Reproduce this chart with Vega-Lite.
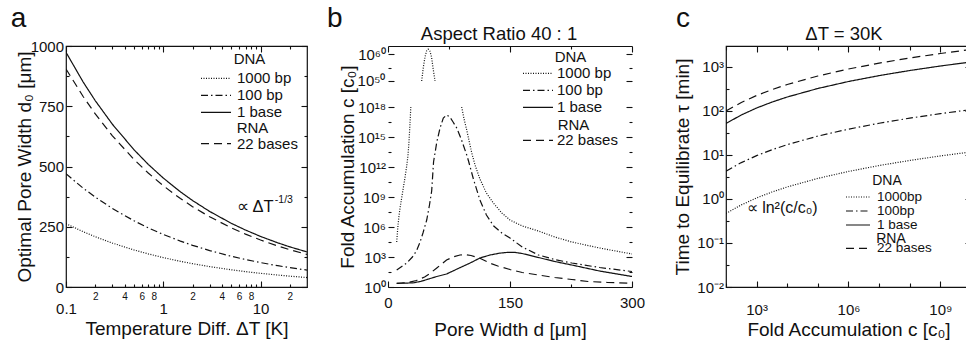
{
"$schema": "https://vega.github.io/schema/vega-lite/v6.json",
"autosize": {"type": "none"},
"padding": {"left": 66, "top": 46, "right": 900, "bottom": 295},
"background": "white",
"config": {
  "font": "Liberation Sans",
  "view": {"stroke": "#111", "strokeWidth": 1.2},
  "mark": {"color": "#111"},
  "line": {"strokeWidth": 1.2},
  "text": {"fill": "#111", "color": "#111"},
  "axis": {"labelFontSize": 15, "labelColor": "#111", "tickColor": "#111", "domainColor": "#111", "titleColor": "#111", "titleFontSize": 19, "titleFontWeight": "normal", "grid": false, "labelFlush": false, "labelOverlap": false, "labelBound": false, "tickWidth": 1.1, "domainWidth": 1.2, "labelPadding": 8.5},
  "legend": {"orient": "none", "direction": "vertical", "padding": 0, "titleFontWeight": "normal", "titleColor": "#111", "labelColor": "#111", "symbolStrokeColor": "#111", "symbolStrokeWidth": 1.2, "symbolType": "M-2,0H2", "symbolSize": 225, "labelFontSize": 15, "titleFontSize": 15}
},
"datasets": {
  "one": [{"k": 1}],
  "a_dna": [
    {"dT":0.1,"d0":973.8,"s":"1 base"},{"dT":0.15,"d0":850.7,"s":"1 base"},{"dT":0.2,"d0":772.9,"s":"1 base"},{"dT":0.3,"d0":675.2,"s":"1 base"},{"dT":0.5,"d0":569.5,"s":"1 base"},{"dT":0.7,"d0":509.0,"s":"1 base"},{"dT":1,"d0":452,"s":"1 base"},{"dT":1.5,"d0":394.9,"s":"1 base"},{"dT":2,"d0":358.8,"s":"1 base"},{"dT":3,"d0":313.4,"s":"1 base"},{"dT":5,"d0":264.3,"s":"1 base"},{"dT":7,"d0":236.3,"s":"1 base"},{"dT":10,"d0":209.8,"s":"1 base"},{"dT":15,"d0":183.3,"s":"1 base"},{"dT":20,"d0":166.5,"s":"1 base"},{"dT":30,"d0":145.5,"s":"1 base"},
    {"dT":0.1,"d0":469.7,"s":"100 bp"},{"dT":0.15,"d0":410.3,"s":"100 bp"},{"dT":0.2,"d0":372.8,"s":"100 bp"},{"dT":0.3,"d0":325.6,"s":"100 bp"},{"dT":0.5,"d0":274.7,"s":"100 bp"},{"dT":0.7,"d0":245.5,"s":"100 bp"},{"dT":1,"d0":218,"s":"100 bp"},{"dT":1.5,"d0":190.4,"s":"100 bp"},{"dT":2,"d0":173.0,"s":"100 bp"},{"dT":3,"d0":151.2,"s":"100 bp"},{"dT":5,"d0":127.5,"s":"100 bp"},{"dT":7,"d0":114.0,"s":"100 bp"},{"dT":10,"d0":101.2,"s":"100 bp"},{"dT":15,"d0":88.4,"s":"100 bp"},{"dT":20,"d0":80.3,"s":"100 bp"},{"dT":30,"d0":70.2,"s":"100 bp"},
    {"dT":0.1,"d0":262.8,"s":"1000 bp"},{"dT":0.15,"d0":229.6,"s":"1000 bp"},{"dT":0.2,"d0":208.6,"s":"1000 bp"},{"dT":0.3,"d0":182.2,"s":"1000 bp"},{"dT":0.5,"d0":153.7,"s":"1000 bp"},{"dT":0.7,"d0":137.4,"s":"1000 bp"},{"dT":1,"d0":122,"s":"1000 bp"},{"dT":1.5,"d0":106.6,"s":"1000 bp"},{"dT":2,"d0":96.8,"s":"1000 bp"},{"dT":3,"d0":84.6,"s":"1000 bp"},{"dT":5,"d0":71.3,"s":"1000 bp"},{"dT":7,"d0":63.8,"s":"1000 bp"},{"dT":10,"d0":56.6,"s":"1000 bp"},{"dT":15,"d0":49.5,"s":"1000 bp"},{"dT":20,"d0":44.9,"s":"1000 bp"},{"dT":30,"d0":39.3,"s":"1000 bp"}
  ],
  "a_rna": [
    {"dT":0.1,"d0":904.8,"s":"22 bases"},{"dT":0.15,"d0":790.5,"s":"22 bases"},{"dT":0.2,"d0":718.2,"s":"22 bases"},{"dT":0.3,"d0":627.4,"s":"22 bases"},{"dT":0.5,"d0":529.2,"s":"22 bases"},{"dT":0.7,"d0":473.0,"s":"22 bases"},{"dT":1,"d0":420,"s":"22 bases"},{"dT":1.5,"d0":366.9,"s":"22 bases"},{"dT":2,"d0":333.4,"s":"22 bases"},{"dT":3,"d0":291.2,"s":"22 bases"},{"dT":5,"d0":245.6,"s":"22 bases"},{"dT":7,"d0":219.6,"s":"22 bases"},{"dT":10,"d0":195.0,"s":"22 bases"},{"dT":15,"d0":170.3,"s":"22 bases"},{"dT":20,"d0":154.7,"s":"22 bases"},{"dT":30,"d0":135.2,"s":"22 bases"}
  ],
  "b_dna": [
    {"d":41.4,"c":1e50,"s":"1000 bp","seg":"T"},{"d":43.4,"c":1e55,"s":"1000 bp","seg":"T"},{"d":45.5,"c":1e59,"s":"1000 bp","seg":"T"},{"d":47.5,"c":1.58e61,"s":"1000 bp","seg":"T"},{"d":49.4,"c":6.31e61,"s":"1000 bp","seg":"T"},{"d":51.5,"c":1.26e61,"s":"1000 bp","seg":"T"},{"d":53.5,"c":1e59,"s":"1000 bp","seg":"T"},{"d":55.3,"c":1e55,"s":"1000 bp","seg":"T"},{"d":57.8,"c":1e50,"s":"1000 bp","seg":"T"},
    {"d":10.7,"c":3.16e4,"s":"1000 bp","seg":"L"},{"d":12,"c":7.94e5,"s":"1000 bp","seg":"L"},{"d":13.5,"c":1.26e7,"s":"1000 bp","seg":"L"},{"d":15,"c":1e8,"s":"1000 bp","seg":"L"},{"d":16.8,"c":7.94e8,"s":"1000 bp","seg":"L"},{"d":19,"c":1e10,"s":"1000 bp","seg":"L"},{"d":21,"c":1e11,"s":"1000 bp","seg":"L"},{"d":23,"c":1.26e12,"s":"1000 bp","seg":"L"},{"d":24.5,"c":1.26e13,"s":"1000 bp","seg":"L"},{"d":25.7,"c":2.51e14,"s":"1000 bp","seg":"L"},{"d":26.7,"c":6.31e15,"s":"1000 bp","seg":"L"},{"d":27.4,"c":7.94e16,"s":"1000 bp","seg":"L"},{"d":28,"c":1e18,"s":"1000 bp","seg":"L"},
    {"d":90.6,"c":1e18,"s":"1000 bp","seg":"R"},{"d":93.5,"c":6.31e16,"s":"1000 bp","seg":"R"},{"d":96.8,"c":5.01e15,"s":"1000 bp","seg":"R"},{"d":100,"c":3.16e14,"s":"1000 bp","seg":"R"},{"d":103,"c":2.51e13,"s":"1000 bp","seg":"R"},{"d":107,"c":1.58e12,"s":"1000 bp","seg":"R"},{"d":113,"c":6.31e10,"s":"1000 bp","seg":"R"},{"d":121,"c":2.51e9,"s":"1000 bp","seg":"R"},{"d":129.5,"c":2.51e8,"s":"1000 bp","seg":"R"},{"d":140,"c":2.51e7,"s":"1000 bp","seg":"R"},{"d":150,"c":5.01e6,"s":"1000 bp","seg":"R"},{"d":165,"c":1.26e6,"s":"1000 bp","seg":"R"},{"d":185,"c":3.98e5,"s":"1000 bp","seg":"R"},{"d":205,"c":1e5,"s":"1000 bp","seg":"R"},{"d":226,"c":3.16e4,"s":"1000 bp","seg":"R"},{"d":260,"c":7940,"s":"1000 bp","seg":"R"},{"d":300,"c":2000,"s":"1000 bp","seg":"R"},
    {"d":10.7,"c":50.1,"s":"100 bp","seg":"m"},{"d":16,"c":100,"s":"100 bp","seg":"m"},{"d":23,"c":251,"s":"100 bp","seg":"m"},{"d":30,"c":1000,"s":"100 bp","seg":"m"},{"d":35,"c":3981,"s":"100 bp","seg":"m"},{"d":39,"c":2.51e4,"s":"100 bp","seg":"m"},{"d":43,"c":2.51e5,"s":"100 bp","seg":"m"},{"d":47.6,"c":5.01e6,"s":"100 bp","seg":"m"},{"d":51,"c":1.58e8,"s":"100 bp","seg":"m"},{"d":53.7,"c":3.98e9,"s":"100 bp","seg":"m"},{"d":56,"c":3.16e12,"s":"100 bp","seg":"m"},{"d":60,"c":3.16e14,"s":"100 bp","seg":"m"},{"d":64,"c":7.94e15,"s":"100 bp","seg":"m"},{"d":68,"c":7.94e16,"s":"100 bp","seg":"m"},{"d":72,"c":1.58e17,"s":"100 bp","seg":"m"},{"d":76,"c":1e17,"s":"100 bp","seg":"m"},{"d":80,"c":3.16e16,"s":"100 bp","seg":"m"},{"d":84.5,"c":7.94e15,"s":"100 bp","seg":"m"},{"d":90,"c":6.31e14,"s":"100 bp","seg":"m"},{"d":96.8,"c":1.58e13,"s":"100 bp","seg":"m"},{"d":99,"c":3.98e12,"s":"100 bp","seg":"m"},{"d":105,"c":6.31e10,"s":"100 bp","seg":"m"},{"d":113,"c":5.01e8,"s":"100 bp","seg":"m"},{"d":121,"c":1.58e7,"s":"100 bp","seg":"m"},{"d":130,"c":1.26e6,"s":"100 bp","seg":"m"},{"d":140,"c":2.51e5,"s":"100 bp","seg":"m"},{"d":150,"c":7.94e4,"s":"100 bp","seg":"m"},{"d":165,"c":1e4,"s":"100 bp","seg":"m"},{"d":185,"c":1585,"s":"100 bp","seg":"m"},{"d":205,"c":562,"s":"100 bp","seg":"m"},{"d":226,"c":251,"s":"100 bp","seg":"m"},{"d":260,"c":89.1,"s":"100 bp","seg":"m"},{"d":300,"c":35.5,"s":"100 bp","seg":"m"},
    {"d":10.7,"c":2.34,"s":"1 base","seg":"m"},{"d":20,"c":2.4,"s":"1 base","seg":"m"},{"d":31,"c":2.63,"s":"1 base","seg":"m"},{"d":40,"c":3.55,"s":"1 base","seg":"m"},{"d":50,"c":6.31,"s":"1 base","seg":"m"},{"d":60,"c":11.2,"s":"1 base","seg":"m"},{"d":72,"c":20,"s":"1 base","seg":"m"},{"d":85,"c":63.1,"s":"1 base","seg":"m"},{"d":101,"c":251,"s":"1 base","seg":"m"},{"d":113,"c":794,"s":"1 base","seg":"m"},{"d":125.5,"c":1585,"s":"1 base","seg":"m"},{"d":137,"c":2399,"s":"1 base","seg":"m"},{"d":148,"c":2951,"s":"1 base","seg":"m"},{"d":155,"c":2951,"s":"1 base","seg":"m"},{"d":165,"c":2239,"s":"1 base","seg":"m"},{"d":185,"c":891,"s":"1 base","seg":"m"},{"d":205,"c":355,"s":"1 base","seg":"m"},{"d":226,"c":158,"s":"1 base","seg":"m"},{"d":260,"c":39.8,"s":"1 base","seg":"m"},{"d":300,"c":11.2,"s":"1 base","seg":"m"}
  ],
  "b_rna": [
    {"d":10.7,"c":2.34,"s":"22 bases"},{"d":25,"c":2.82,"s":"22 bases"},{"d":35,"c":4.47,"s":"22 bases"},{"d":45,"c":10,"s":"22 bases"},{"d":51.7,"c":23.4,"s":"22 bases"},{"d":60,"c":79.4,"s":"22 bases"},{"d":72,"c":501,"s":"22 bases"},{"d":80,"c":1000,"s":"22 bases"},{"d":88.5,"c":1585,"s":"22 bases"},{"d":95,"c":1778,"s":"22 bases"},{"d":102,"c":1413,"s":"22 bases"},{"d":113,"c":741,"s":"22 bases"},{"d":125,"c":251,"s":"22 bases"},{"d":135,"c":126,"s":"22 bases"},{"d":150,"c":56.2,"s":"22 bases"},{"d":165,"c":28.2,"s":"22 bases"},{"d":185,"c":15.8,"s":"22 bases"},{"d":205,"c":8.91,"s":"22 bases"},{"d":226,"c":5.62,"s":"22 bases"},{"d":246,"c":3.55,"s":"22 bases"},{"d":270,"c":2.82,"s":"22 bases"},{"d":300,"c":2.34,"s":"22 bases"}
  ],
  "c_dna": [
    {"c":100,"t":52,"s":"1 base"},{"c":316.2,"t":81.3,"s":"1 base"},{"c":1000,"t":117,"s":"1 base"},{"c":3162,"t":159.3,"s":"1 base"},{"c":1e4,"t":208,"s":"1 base"},{"c":1e5,"t":325,"s":"1 base"},{"c":1e6,"t":468,"s":"1 base"},{"c":1e7,"t":637,"s":"1 base"},{"c":1e8,"t":832,"s":"1 base"},{"c":1e9,"t":1053,"s":"1 base"},{"c":1e10,"t":1300,"s":"1 base"},
    {"c":100,"t":4.3,"s":"100bp"},{"c":316.2,"t":6.72,"s":"100bp"},{"c":1000,"t":9.68,"s":"100bp"},{"c":3162,"t":13.17,"s":"100bp"},{"c":1e4,"t":17.2,"s":"100bp"},{"c":1e5,"t":26.9,"s":"100bp"},{"c":1e6,"t":38.7,"s":"100bp"},{"c":1e7,"t":52.7,"s":"100bp"},{"c":1e8,"t":68.8,"s":"100bp"},{"c":1e9,"t":87.1,"s":"100bp"},{"c":1e10,"t":107.5,"s":"100bp"},
    {"c":100,"t":0.47,"s":"1000bp"},{"c":316.2,"t":0.734,"s":"1000bp"},{"c":1000,"t":1.058,"s":"1000bp"},{"c":3162,"t":1.439,"s":"1000bp"},{"c":1e4,"t":1.88,"s":"1000bp"},{"c":1e5,"t":2.94,"s":"1000bp"},{"c":1e6,"t":4.23,"s":"1000bp"},{"c":1e7,"t":5.76,"s":"1000bp"},{"c":1e8,"t":7.52,"s":"1000bp"},{"c":1e9,"t":9.52,"s":"1000bp"},{"c":1e10,"t":11.75,"s":"1000bp"}
  ],
  "c_rna": [
    {"c":100,"t":100,"s":"22 bases"},{"c":316.2,"t":156.3,"s":"22 bases"},{"c":1000,"t":225,"s":"22 bases"},{"c":3162,"t":306.3,"s":"22 bases"},{"c":1e4,"t":400,"s":"22 bases"},{"c":1e5,"t":625,"s":"22 bases"},{"c":1e6,"t":900,"s":"22 bases"},{"c":1e7,"t":1225,"s":"22 bases"},{"c":1e8,"t":1600,"s":"22 bases"},{"c":1e9,"t":2025,"s":"22 bases"},{"c":1e10,"t":2500,"s":"22 bases"}
  ]
},
"hconcat": [
  {
    "width": 241, "height": 241,
    "layer": [
      {
        "data": {"name": "a_dna"},
        "mark": {"type": "line", "clip": true},
        "encoding": {
          "x": {"field": "dT", "type": "quantitative", "scale": {"type": "log", "domain": [0.1, 30], "nice": false},
            "axis": {"orient": "bottom", "title": "Temperature Diff. ΔT [K]", "values": [0.1,0.2,0.3,0.4,0.5,0.6,0.7,0.8,0.9,1,2,3,4,5,6,7,8,9,10,20],
              "labelExpr": "datum.value == 0.1 ? '0.1' : datum.value == 1 ? '1' : datum.value == 10 ? '10' : indexof([0.2,0.4,0.6,0.8], datum.value) >= 0 ? format(datum.value*10, '.0f') : indexof([2,4,6,8], datum.value) >= 0 ? format(datum.value, '.0f') : datum.value == 20 ? '2' : ''",
              "labelFontSize": {"condition": {"test": "indexof([0.1,1,10], datum.value) >= 0", "value": 15}, "value": 10},
              "labelPadding": {"condition": {"test": "indexof([0.1,1,10], datum.value) >= 0", "value": 20}, "value": 7.5},
              "tickSize": {"condition": {"test": "indexof([0.1,1,10], datum.value) >= 0", "value": -6}, "value": -3},
              "domain": false, "titlePadding": 3}},
          "y": {"field": "d0", "type": "quantitative", "scale": {"domain": [0, 1000], "nice": false, "zero": false},
            "axis": {"orient": "left", "title": "Optimal Pore Width d₀ [μm]", "values": [0,125,250,375,500,625,750,875,1000],
              "labelExpr": "datum.value % 250 == 0 ? format(datum.value, 'd') : ''",
              "tickSize": {"condition": {"test": "datum.value % 250 == 0", "value": -6}, "value": -3},
              "domain": false, "titlePadding": -4}},
          "strokeDash": {"field": "s", "type": "nominal", "scale": {"domain": ["1000 bp", "100 bp", "1 base"], "range": [[1, 1.5], [7, 3, 1.5, 3], [1, 0]]},
            "legend": {"title": "DNA", "legendX": 141.5, "legendY": 6.4, "labelOffset": 12.5, "rowPadding": -1.6, "titlePadding": 2.5, "titleAnchor": "middle"}}
        }
      },
      {
        "data": {"name": "a_rna"},
        "mark": {"type": "line", "clip": true},
        "encoding": {
          "x": {"field": "dT", "type": "quantitative",
            "axis": {"orient": "top", "title": null, "labels": false, "values": [0.1,0.2,0.3,0.4,0.5,0.6,0.7,0.8,0.9,1,2,3,4,5,6,7,8,9,10,20],
              "tickSize": {"condition": {"test": "indexof([0.1,1,10], datum.value) >= 0", "value": -6}, "value": -3}, "domain": false}},
          "y": {"field": "d0", "type": "quantitative",
            "axis": {"orient": "right", "title": null, "labels": false, "values": [0,125,250,375,500,625,750,875,1000],
              "tickSize": {"condition": {"test": "datum.value % 250 == 0", "value": -6}, "value": -3}, "domain": false}},
          "strokeDash": {"field": "s", "type": "nominal", "scale": {"domain": ["22 bases"], "range": [[8, 5]]},
            "legend": {"title": "RNA", "legendX": 141.5, "legendY": 75.4, "labelOffset": 12.5, "titlePadding": -1.2, "titleAnchor": "middle"}}
        }
      },
      {
        "data": {"name": "one"},
        "mark": {"type": "text", "align": "left", "baseline": "middle", "fontSize": 16.5, "fill": "#111", "text": "∝ ΔT"},
        "encoding": {"x": {"datum": 5.7, "type": "quantitative", "axis": null}, "y": {"datum": 333, "type": "quantitative", "axis": null}}
      },
      {
        "data": {"name": "one"},
        "mark": {"type": "text", "align": "left", "baseline": "middle", "fontSize": 10.5, "fill": "#111", "text": "-1/3"},
        "encoding": {"x": {"datum": 14, "type": "quantitative", "axis": null}, "y": {"datum": 363, "type": "quantitative", "axis": null}}
      },
      {
        "data": {"name": "one"},
        "mark": {"type": "text", "align": "left", "baseline": "alphabetic", "fontSize": 28, "fill": "#111", "text": "a"},
        "encoding": {"x": {"datum": 0.027, "type": "quantitative", "axis": null}, "y": {"datum": 1078.8, "type": "quantitative", "axis": null}}
      }
    ],
    "resolve": {"scale": {"strokeDash": "independent"}, "axis": {"x": "independent", "y": "independent"}}
  },
  {
    "width": 257, "height": 241,
    "view": {"stroke": null},
    "layer": [
      {
        "data": {"name": "b_dna"},
        "mark": {"type": "line", "clip": true},
        "encoding": {
          "x": {"field": "d", "type": "quantitative", "scale": {"domain": [0, 300], "range": [0, 244], "nice": false, "zero": false},
            "axis": {"orient": "bottom", "title": "Pore Width d [μm]", "values": [0,75,150,225,300],
              "labelExpr": "datum.value % 150 == 0 ? datum.label : ''",
              "tickSize": {"condition": {"test": "datum.value % 150 == 0", "value": -6}, "value": -3},
              "labelPadding": 14.5, "titlePadding": 7}},
          "y": {"field": "c", "type": "quantitative", "scale": {"type": "log", "domain": [1, 1e18, 1e50, 1e63], "range": [241, 61, 35, 0], "nice": false, "zero": false},
            "axis": {"orient": "left", "title": "Fold Accumulation c [c₀]", "titlePadding": 0, "domain": false, "labelOverlap": false,
              "values": [1, 31.6227766, 1000, 31622.7766, 1e6, 31622776.6, 1e9, 3.16227766e10, 1e12, 3.16227766e13, 1e15, 3.16227766e16, 1e18, 1.02e50, 1e55, 1e60],
              "labelExpr": "abs(log(datum.value)/LN10 - round(log(datum.value)/LN10)) > 0.01 ? '' : (({'0':'10⁰','3':'10³','6':'10⁶','9':'10⁹','12':'10¹²','15':'10¹⁵','18':'10¹⁸','60':'10⁶⁰'})[round(log(datum.value)/LN10) + ''] || '')",
              "tickSize": {"condition": {"test": "abs(log(datum.value)/LN10 - round(log(datum.value)/LN10)) < 0.02 && round(log(datum.value)/LN10) != 55", "value": -6}, "value": -3}}},
          "detail": {"field": "seg"},
          "strokeDash": {"field": "s", "type": "nominal", "scale": {"domain": ["1000 bp", "100 bp", "1 base"], "range": [[1, 1.5], [7, 3, 1.5, 3], [1, 0]]},
            "legend": {"title": "DNA", "legendX": 141.5, "legendY": 4.4, "labelOffset": 10.5, "rowPadding": -0.5, "titlePadding": -0.5, "titleAnchor": "middle"}}
        }
      },
      {
        "data": {"name": "b_rna"},
        "mark": {"type": "line", "clip": true},
        "encoding": {
          "x": {"field": "d", "type": "quantitative",
            "axis": {"orient": "top", "title": null, "labels": false, "values": [0,75,150,225,300],
              "tickSize": {"condition": {"test": "datum.value % 150 == 0", "value": -6}, "value": -3}}},
          "y": {"field": "c", "type": "quantitative",
            "axis": {"orient": "right", "offset": -13, "title": null, "labels": false, "domain": false,
              "values": [1, 31.6227766, 1000, 31622.7766, 1e6, 31622776.6, 1e9, 3.16227766e10, 1e12, 3.16227766e13, 1e15, 3.16227766e16, 1e18, 1.02e50, 1e55, 1e60],
              "tickSize": {"condition": {"test": "abs(log(datum.value)/LN10 - round(log(datum.value)/LN10)) < 0.02 && round(log(datum.value)/LN10) != 55", "value": -6}, "value": -3}}},
          "strokeDash": {"field": "s", "type": "nominal", "scale": {"domain": ["22 bases"], "range": [[8, 5]]},
            "legend": {"title": "RNA", "legendX": 141.5, "legendY": 71.7, "labelOffset": 10.5, "titlePadding": -0.8, "titleAnchor": "middle"}}
        }
      },
      {
        "data": {"name": "one"},
        "mark": {"type": "text", "align": "right", "baseline": "middle", "fontSize": 15, "fill": "#111", "dy": 5.4, "text": "10⁵⁰"},
        "encoding": {"x": {"datum": -3.07, "type": "quantitative", "axis": null}, "y": {"datum": 1e52, "type": "quantitative", "axis": null}}
      },
      {
        "mark": {"type": "rule", "color": "#111", "strokeWidth": 1.2},
        "encoding": {"x": {"datum": 0, "type": "quantitative", "axis": null}, "y": {"datum": 1, "type": "quantitative", "axis": null}, "y2": {"datum": 1e18}}
      },
      {
        "mark": {"type": "rule", "color": "#111", "strokeWidth": 1.2},
        "encoding": {"x": {"datum": 0, "type": "quantitative", "axis": null}, "y": {"datum": 1e50, "type": "quantitative", "axis": null}, "y2": {"datum": 1e63}}
      },
      {
        "mark": {"type": "rule", "color": "#111", "strokeWidth": 1.2},
        "encoding": {"x": {"datum": 300, "type": "quantitative", "axis": null}, "y": {"datum": 1, "type": "quantitative", "axis": null}, "y2": {"datum": 1e18}}
      },
      {
        "mark": {"type": "rule", "color": "#111", "strokeWidth": 1.2},
        "encoding": {"x": {"datum": 300, "type": "quantitative", "axis": null}, "y": {"datum": 1e50, "type": "quantitative", "axis": null}, "y2": {"datum": 1e63}}
      },
      {
        "data": {"name": "one"},
        "mark": {"type": "text", "align": "left", "baseline": "alphabetic", "fontSize": 28, "fill": "#111", "text": "b"},
        "encoding": {"x": {"datum": -75, "type": "quantitative", "axis": null}, "y": {"datum": 1.15e70, "type": "quantitative", "axis": null}}
      },
      {
        "data": {"name": "one"},
        "mark": {"type": "text", "align": "center", "baseline": "alphabetic", "fontSize": 18.5, "fill": "#111", "text": "Aspect Ratio 40 : 1"},
        "encoding": {"x": {"datum": 136.5, "type": "quantitative", "axis": null}, "y": {"datum": 1.7e65, "type": "quantitative", "axis": null}}
      }
    ],
    "resolve": {"scale": {"strokeDash": "independent"}, "axis": {"x": "independent", "y": "independent"}}
  },
  {
    "width": 245, "height": 241,
    "layer": [
      {
        "data": {"name": "c_dna"},
        "mark": {"type": "line", "clip": true},
        "encoding": {
          "x": {"field": "c", "type": "quantitative", "scale": {"type": "log", "domain": [100, 1e10], "nice": false},
            "axis": {"orient": "bottom", "title": "Fold Accumulation c [c₀]", "values": [100, 1000, 1e4, 1e5, 1e6, 1e7, 1e8, 1e9, 1e10],
              "labelExpr": "({'3':'10³','6':'10⁶','9':'10⁹'})[round(log(datum.value)/LN10) + ''] || ''",
              "tickSize": {"condition": {"test": "indexof([3,6,9], round(log(datum.value)/LN10)) >= 0", "value": -6}, "value": -4},
              "labelPadding": 21, "domain": false, "titlePadding": 1.5}},
          "y": {"field": "t", "type": "quantitative", "scale": {"type": "log", "domain": [0.01, 3000], "nice": false},
            "axis": {"orient": "left", "title": "Time to Equilibrate τ [min]", "titlePadding": 4,
              "values": [0.01, 0.0316227766, 0.1, 0.316227766, 1, 3.16227766, 10, 31.6227766, 100, 316.227766, 1000],
              "labelExpr": "abs(log(datum.value)/LN10 - round(log(datum.value)/LN10)) > 0.01 ? '' : (({'-2':'10⁻²','-1':'10⁻¹','0':'10⁰','1':'10¹','2':'10²','3':'10³'})[round(log(datum.value)/LN10) + ''] || '')",
              "tickSize": {"condition": {"test": "abs(log(datum.value)/LN10 - round(log(datum.value)/LN10)) < 0.01", "value": -6}, "value": -3},
              "domain": false}},
          "strokeDash": {"field": "s", "type": "nominal", "scale": {"domain": ["1000bp", "100bp", "1 base"], "range": [[1, 1.5], [7, 3, 1.5, 3], [1, 0]]},
            "legend": {"title": "DNA", "legendX": 125, "legendY": 127.6, "symbolSize": 144, "labelFontSize": 13.5, "titleFontSize": 14, "labelOffset": 12, "rowPadding": -6.2, "titlePadding": 2.4, "titleAnchor": "middle"}}
        }
      },
      {
        "data": {"name": "c_rna"},
        "mark": {"type": "line", "clip": true},
        "encoding": {
          "x": {"field": "c", "type": "quantitative",
            "axis": {"orient": "top", "title": null, "labels": false, "values": [100, 1000, 1e4, 1e5, 1e6, 1e7, 1e8, 1e9, 1e10],
              "tickSize": {"condition": {"test": "indexof([3,6,9], round(log(datum.value)/LN10)) >= 0", "value": -6}, "value": -4}, "domain": false}},
          "y": {"field": "t", "type": "quantitative",
            "axis": {"orient": "right", "title": null, "labels": false,
              "values": [0.01, 0.0316227766, 0.1, 0.316227766, 1, 3.16227766, 10, 31.6227766, 100, 316.227766, 1000],
              "tickSize": {"condition": {"test": "abs(log(datum.value)/LN10 - round(log(datum.value)/LN10)) < 0.01", "value": -6}, "value": -3}, "domain": false}},
          "strokeDash": {"field": "s", "type": "nominal", "scale": {"domain": ["22 bases"], "range": [[8, 5]]},
            "legend": {"title": "RNA", "legendX": 125, "legendY": 186, "symbolSize": 144, "labelFontSize": 13.5, "titleFontSize": 14, "labelOffset": 12, "titlePadding": -4.6, "titleAnchor": "middle"}}
        }
      },
      {
        "data": {"name": "one"},
        "mark": {"type": "text", "align": "left", "baseline": "middle", "fontSize": 16, "fill": "#111", "text": "∝ ln²(c/c₀)"},
        "encoding": {"x": {"datum": 474, "type": "quantitative", "axis": null}, "y": {"datum": 0.615, "type": "quantitative", "axis": null}}
      },
      {
        "data": {"name": "one"},
        "mark": {"type": "text", "align": "left", "baseline": "alphabetic", "fontSize": 28, "fill": "#111", "text": "c"},
        "encoding": {"x": {"datum": 2.33, "type": "quantitative", "axis": null}, "y": {"datum": 8110, "type": "quantitative", "axis": null}}
      },
      {
        "data": {"name": "one"},
        "mark": {"type": "text", "align": "center", "baseline": "alphabetic", "fontSize": 18.5, "fill": "#111", "text": "ΔT = 30K"},
        "encoding": {"x": {"datum": 713000, "type": "quantitative", "axis": null}, "y": {"datum": 4104, "type": "quantitative", "axis": null}}
      }
    ],
    "resolve": {"scale": {"strokeDash": "independent"}, "axis": {"x": "independent", "y": "independent"}}
  }
],
"spacing": 81,
"bounds": "flush"
}
